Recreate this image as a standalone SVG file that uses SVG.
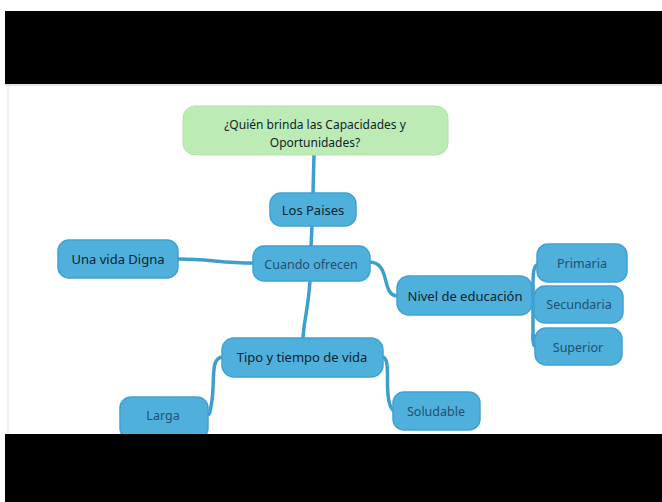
<svg xmlns="http://www.w3.org/2000/svg" width="662" height="502" viewBox="0 0 662 502">
<style>
.node{fill:#4fb0dc;stroke:#3fa2d2;stroke-width:1.5}
.root{fill:#bdebb5;stroke:#b0e3a8;stroke-width:1}
.t{font-family:"Noto Sans","Open Sans",sans-serif;font-size:13px;text-anchor:middle;dominant-baseline:central;fill:#0d1f2d}
.r{font-size:12px}
.l{fill:#234f6e;font-size:12.5px}
.c{fill:none;stroke:#3f9fcc;stroke-width:3.5;stroke-linecap:round}
</style>
<rect width="662" height="502" fill="#ffffff"/>
<rect x="5" y="11" width="657" height="73" fill="#000000"/>
<line x1="5" y1="85" x2="662" y2="85" stroke="#cfcfcf" stroke-width="1"/>
<line x1="8" y1="85" x2="8" y2="434" stroke="#e4e4e4" stroke-width="1"/>
<g id="connectors">
<path class="c" d="M314 155 L313 193"/>
<path class="c" d="M312 226 L311 246"/>
<path class="c" d="M254 263 C220 263 210 259 178 259"/>
<path class="c" d="M369 262 C392 262 380 296 398 296"/>
<path class="c" d="M310 281 C308 310 304 320 303 338"/>
<path class="c" d="M531 296 C534 296 533 292 533 285 L533 340"/>
<path class="c" d="M533 285 C533 270 534 264 540 264"/>
<path class="c" d="M533 300 C533 303 535 304 537 304"/>
<path class="c" d="M533 335 C533 345 534 347 537 347"/>
<path class="c" d="M223 357 C210 357 215 380 212 400 C210 412 210 415 207 415"/>
<path class="c" d="M382 357 C392 357 384 390 390 405 C392 410 393 411 395 411"/>
</g>
<g id="root">
<rect class="root" x="183" y="106" width="265" height="49" rx="12"/>
<text class="t r" x="315" y="124">¿Quién brinda las Capacidades y</text>
<text class="t r" x="315" y="142">Oportunidades?</text>
</g>
<g id="los-paises">
<rect class="node" x="270" y="193" width="86" height="33" rx="11"/>
<text class="t" x="313" y="210">Los Paises</text>
</g>
<g id="cuando-ofrecen">
<rect class="node" x="253" y="246" width="117" height="35" rx="11"/>
<text class="t l" x="311" y="264">Cuando ofrecen</text>
</g>
<g id="una-vida-digna">
<rect class="node" x="58" y="240" width="120" height="38" rx="11"/>
<text class="t" x="118" y="259">Una vida Digna</text>
</g>
<g id="nivel-educacion">
<rect class="node" x="397" y="276" width="135" height="39" rx="12"/>
<text class="t" x="465" y="296">Nivel de educación</text>
</g>
<g id="primaria">
<rect class="node" x="537" y="244" width="90" height="38" rx="11"/>
<text class="t l" x="582" y="263">Primaria</text>
</g>
<g id="secundaria">
<rect class="node" x="534" y="286" width="89" height="37" rx="11"/>
<text class="t l" x="579" y="304">Secundaria</text>
</g>
<g id="superior">
<rect class="node" x="535" y="328" width="87" height="37" rx="11"/>
<text class="t l" x="578" y="347">Superior</text>
</g>
<g id="tipo-tiempo">
<rect class="node" x="222" y="338" width="161" height="39" rx="12"/>
<text class="t" x="302" y="357">Tipo y tiempo de vida</text>
</g>
<g id="larga">
<rect class="node" x="120" y="397" width="88" height="42" rx="11"/>
<text class="t l" x="163" y="415">Larga</text>
</g>
<g id="soludable">
<rect class="node" x="393" y="392" width="87" height="38" rx="11"/>
<text class="t l" x="436" y="411">Soludable</text>
</g>
<rect x="5" y="434" width="657" height="68" fill="#000000"/>
</svg>
